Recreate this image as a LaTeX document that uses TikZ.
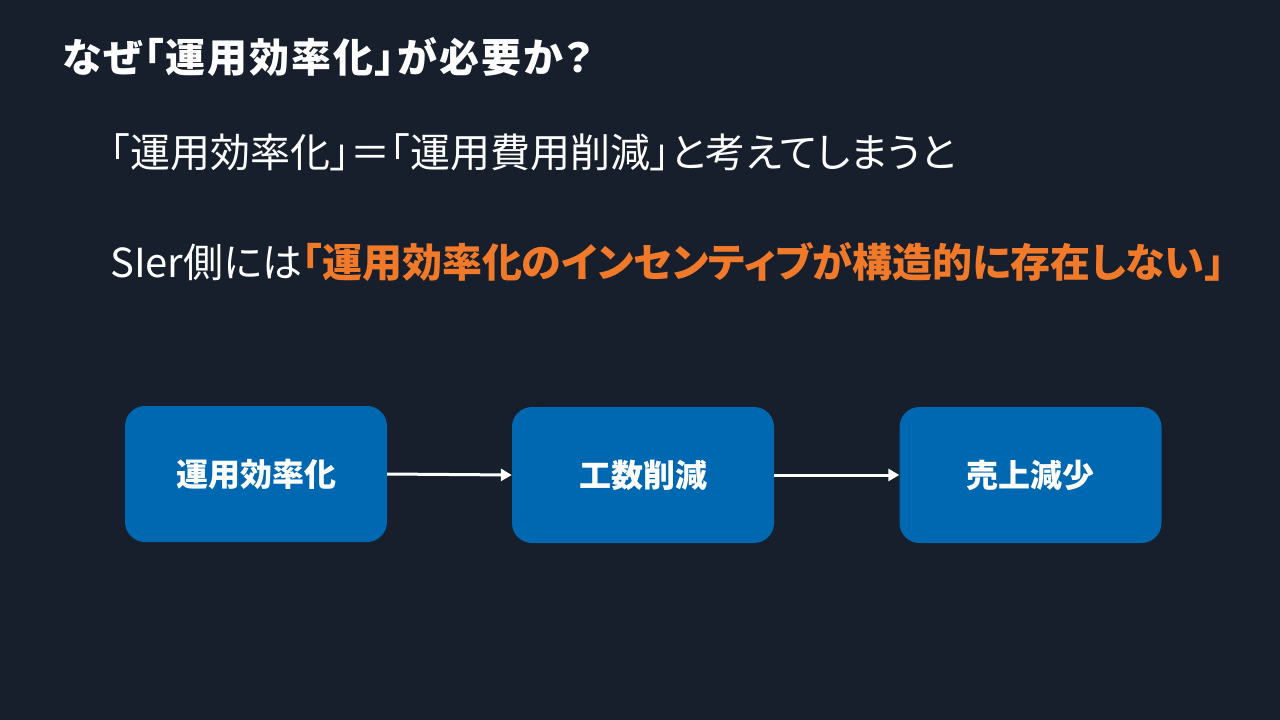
\documentclass[tikz,border=0pt]{standalone}
\usepackage{fontspec}
\setmainfont{Noto Sans CJK JP}[RawFeature=+palt]
\usetikzlibrary{arrows.meta}
\definecolor{bgc}{HTML}{171E2C}
\definecolor{boxc}{HTML}{0068B0}
\definecolor{orangec}{HTML}{F07A2A}
\tikzset{
  txt/.style={anchor=base west, inner sep=0pt, text=white},
  flowbox/.style={fill=boxc, rounded corners=20pt, minimum width=262pt, minimum height=136pt, inner sep=0pt, text=white, font=\fontsize{32}{36}\selectfont\bfseries},
  flowarrow/.style={draw=white, line width=3pt, -{Triangle[length=11pt,width=12pt]}}
}
\begin{document}
\begin{tikzpicture}[x=1pt,y=-1pt]
\fill[bgc] (0,0) rectangle (1280,720);
\useasboundingbox (0,0) rectangle (1280,720);
\node[txt, font=\fontsize{40}{46}\selectfont\bfseries\addfontfeature{LetterSpace=5}] (title) at (62,72.5) {なぜ「運用効率化」が必要か？};
\node[txt, font=\fontsize{40}{46}\selectfont] (l1) at (110,167) {「運用効率化」＝「運用費用削減」と考えてしまうと};
\node[txt, font=\fontsize{40}{46}\selectfont] (l2) at (110,277) {SIer側には\textcolor{orangec}{\bfseries「運用効率化のインセンティブが構造的に存在しない」}};
\node[flowbox] (b1) at (256,474) {運用効率化};
\node[flowbox] (b2) at (643,475) {工数削減};
\node[flowbox] (b3) at (1030.5,475) {売上減少};
\draw[flowarrow] (b1.east) -- (b2.west);
\draw[flowarrow] (b2.east) -- (b3.west);
\end{tikzpicture}
\end{document}
